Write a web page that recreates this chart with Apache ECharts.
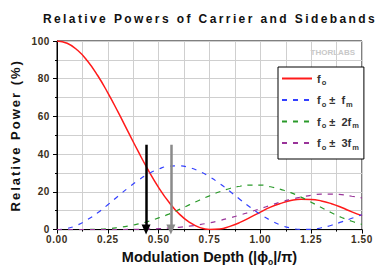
<!DOCTYPE html>
<html>
<head>
<meta charset="utf-8">
<script src="https://cdn.jsdelivr.net/npm/echarts@6/dist/echarts.min.js"></script>
<style>
  html, body { margin: 0; padding: 0; background: #fff; }
  #chart { width: 379px; height: 271px; }
  /* spaced-out lettering like the original figure (plain, non-rich texts only) */
  #chart text[style*="12px"] { letter-spacing: 2.4px; }
  #chart text[style*="13px"] { letter-spacing: 2px; }
  #chart text[style*="10px"] { letter-spacing: 0.6px; }
</style>
</head>
<body>
<div id="chart"></div>
<script>
// modulation depth |phi0|/pi
const depth = [0, 0.05, 0.1, 0.15, 0.2, 0.25, 0.3, 0.35, 0.4, 0.45, 0.5, 0.55, 0.6, 0.65, 0.7, 0.75,
  0.8, 0.85, 0.9, 0.95, 1.0, 1.05, 1.1, 1.15, 1.2, 1.25, 1.3, 1.35, 1.4, 1.45, 1.5];

// relative power (%)
const carrier = [100, 98.8, 95.2, 89.4, 81.7, 72.5, 62.4, 51.8, 41.3, 31.3, 22.3, 14.6, 8.4, 4.0, 1.2, 0.1,
  0.3, 1.7, 3.8, 6.5, 9.3, 11.9, 13.9, 15.4, 16.1, 16.0, 15.2, 13.7, 11.7, 9.4, 7.4];
const side1 = [0, 0.6, 2.4, 5.3, 8.9, 13.2, 17.7, 22.1, 26.2, 29.6, 32.1, 33.6, 33.8, 32.9, 30.9, 28.0,
  24.4, 20.3, 16.0, 11.9, 8.1, 4.9, 2.4, 0.8, 0.1, 0.1, 1.0, 2.3, 4.1, 6.0, 7.9];
const side2 = [0, 0, 0, 0.1, 0.2, 0.5, 1.1, 1.9, 3.0, 4.4, 6.2, 8.2, 10.6, 13.1, 15.6, 17.9,
  20.1, 21.8, 23.0, 23.6, 23.6, 22.7, 21.3, 19.6, 17.2, 14.5, 11.7, 8.9, 6.4, 4.4, 2.8];
const side3 = [0, 0, 0, 0, 0, 0, 0, 0.1, 0.1, 0.3, 0.5, 0.8, 1.2, 1.8, 2.6, 3.6,
  4.8, 6.2, 7.7, 9.4, 11.1, 12.9, 14.6, 16.0, 17.2, 18.2, 18.8, 18.8, 18.5, 17.7, 16.8];

const seriesNames = ['f0', 'f0 ± fm', 'f0 ± 2fm', 'f0 ± 3fm'];
const legendLabels = ['{n|f}{s|o}', '{n|f}{s|o}{n| ±  f}{s|m}', '{n|f}{s|o}{n| ±  2f}{s|m}', '{n|f}{s|o}{n| ±  3f}{s|m}'];

// arrows: [depth, from %, to %]
const arrowBlack = [0.438, 45, 0];
const arrowGray = [0.56, 45, 0];

const pair = ys => depth.map((x, i) => [x, ys[i]]);

const chart = echarts.init(document.getElementById('chart'), null, { renderer: 'svg' });

const labelColor = '#3b3020';
const dashStyle = [5, 6];

chart.setOption({
  animation: false,
  backgroundColor: '#fff',
  textStyle: { fontFamily: 'Liberation Sans, Arial, sans-serif' },
  title: {
    text: 'Relative Powers of Carrier and Sidebands',
    left: 210, top: 13, padding: 0,
    textAlign: 'center',
    textStyle: { fontSize: 12, fontWeight: 'bold', color: '#111' }
  },
  grid: { left: 57, right: 17, top: 41, bottom: 41, show: true, borderColor: '#000', borderWidth: 1 },
  legend: {
    orient: 'vertical',
    left: 278, top: 67,
    padding: [6, 5, 8, 3],
    itemGap: 8,
    itemWidth: 30, itemHeight: 10,
    borderColor: '#000', borderWidth: 1,
    backgroundColor: '#fff',
    data: seriesNames,
    itemStyle: { opacity: 0, borderWidth: 0 },
    formatter: name => legendLabels[seriesNames.indexOf(name)],
    textStyle: {
      color: '#333',
      rich: {
        n: { fontSize: 11, fontWeight: 'bold', color: '#333', lineHeight: 16 },
        s: { fontSize: 7.5, fontWeight: 'bold', color: '#333', padding: [8, 0, 0, 1] }
      }
    }
  },
  graphic: [{
    type: 'text', right: 24, top: 48,
    style: { text: 'THORLABS', fontSize: 8, fontWeight: 'bold', fill: '#c8c8c8', fontFamily: 'Liberation Sans' }
  }],
  xAxis: {
    type: 'value', min: 0, max: 1.5, interval: 0.25,
    name: 'Modulation Depth (|ϕ{s|o}|/π)',
    nameLocation: 'middle', nameGap: 16,
    nameTextStyle: {
      fontSize: 14.5, fontWeight: 'bold', color: '#111',
      rich: { s: { fontSize: 8.5, fontWeight: 'bold', color: '#111', padding: [9, 0, 0, 0] } }
    },
    axisLine: { onZero: false, lineStyle: { color: '#000', width: 1 } },
    axisTick: { length: 4, lineStyle: { color: '#000' } },
    minorTick: { show: true, splitNumber: 2, length: 2, lineStyle: { color: '#000' } },
    axisLabel: { fontSize: 10, fontWeight: 'bold', color: labelColor, margin: 5, formatter: v => v.toFixed(2) },
    splitLine: { lineStyle: { color: '#cfcfcf', width: 1 } },
    minorSplitLine: { show: true, lineStyle: { color: '#cfcfcf', width: 1 } }
  },
  yAxis: {
    type: 'value', min: 0, max: 100, interval: 20,
    name: 'Relative Power (%)',
    nameLocation: 'middle', nameGap: 33,
    nameTextStyle: { fontSize: 13, fontWeight: 'bold', color: '#111' },
    axisLine: { show: true, lineStyle: { color: '#000', width: 1 } },
    axisTick: { show: true, length: 4, lineStyle: { color: '#000' } },
    minorTick: { show: true, splitNumber: 2, length: 2, lineStyle: { color: '#000' } },
    axisLabel: { fontSize: 10, fontWeight: 'bold', color: labelColor, margin: 7 },
    splitLine: { lineStyle: { color: '#cfcfcf', width: 1 } },
    minorSplitLine: { show: true, lineStyle: { color: '#cfcfcf', width: 1 } }
  },
  series: [
    {
      name: seriesNames[0], type: 'line', data: pair(carrier), smooth: true, symbol: 'none',
      lineStyle: { color: '#ff1a1a', width: 1.5 }, itemStyle: { color: '#ff1a1a' },
      markLine: {
        silent: true,
        symbol: ['none', 'triangle'],
        symbolSize: [9, 10],
        label: { show: false },
        data: [
          [{ coord: [arrowBlack[0], arrowBlack[1]], lineStyle: { color: '#000', width: 2.5, type: 'solid' }, symbol: 'none' },
           { coord: [arrowBlack[0], arrowBlack[2]], symbolRotate: 180 }],
          [{ coord: [arrowGray[0], arrowGray[1]], lineStyle: { color: '#8a8a8a', width: 2.5, type: 'solid' }, symbol: 'none' },
           { coord: [arrowGray[0], arrowGray[2]], symbolRotate: 180 }]
        ]
      }
    },
    {
      name: seriesNames[1], type: 'line', data: pair(side1), smooth: true, symbol: 'none',
      lineStyle: { color: '#3340ff', width: 1.2, type: dashStyle }, itemStyle: { color: '#3340ff' }
    },
    {
      name: seriesNames[2], type: 'line', data: pair(side2), smooth: true, symbol: 'none',
      lineStyle: { color: '#2a9a2a', width: 1.2, type: dashStyle }, itemStyle: { color: '#2a9a2a' }
    },
    {
      name: seriesNames[3], type: 'line', data: pair(side3), smooth: true, symbol: 'none',
      lineStyle: { color: '#993399', width: 1.2, type: dashStyle }, itemStyle: { color: '#993399' }
    }
  ]
});
</script>
</body>
</html>
